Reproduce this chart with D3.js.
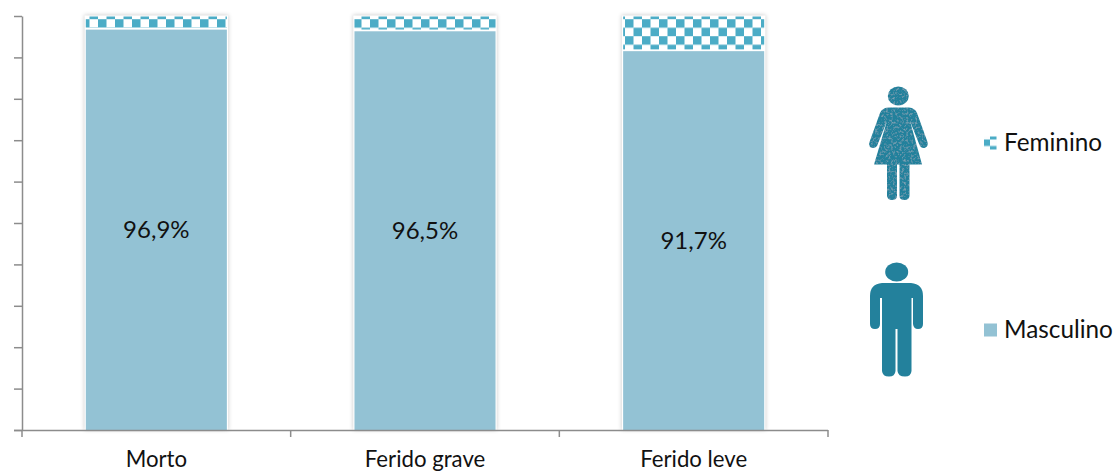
<!DOCTYPE html>
<html><head><meta charset="utf-8">
<script src="https://cdn.jsdelivr.net/npm/d3@7"></script>
<style>html,body{margin:0;background:#fff}svg{display:block}text{font-family:Lato,"Open Sans",sans-serif;fill:#111}</style>
</head><body><svg id="c" width="1117" height="472"></svg>
<script>
const categories = ["Morto", "Ferido grave", "Ferido leve"];
const masculino = [96.9, 96.5, 91.7];
const feminino = [3.1, 3.5, 8.3];
const labels = ["96,9%", "96,5%", "91,7%"];
const yTicks = [0,10,20,30,40,50,60,70,80,90,100];

const svg = d3.select("#c");
const x = d3.scaleBand().domain(categories).range([22,828]).paddingInner(0.475).paddingOuter(0.2375);
const y = d3.scaleLinear().domain([0,100]).range([430,16]);
const cM="#93c2d4", cF="#4bacc6", cI="#23819c", cA="#8c8c8c";

const defs = svg.append("defs");
const p = defs.append("pattern").attr("id","chk").attr("patternUnits","userSpaceOnUse")
  .attr("width",17).attr("height",17).attr("patternTransform","translate(98,19.2)");
p.append("rect").attr("width",17).attr("height",17).attr("fill","#fff");
p.append("rect").attr("width",8.5).attr("height",8.5).attr("fill",cF);
p.append("rect").attr("x",8.5).attr("y",8.5).attr("width",8.5).attr("height",8.5).attr("fill",cF);
const s = defs.append("filter").attr("id","sh").attr("x","-10%").attr("y","-10%").attr("width","120%").attr("height","120%");
s.append("feGaussianBlur").attr("stdDeviation",2);
const lg = defs.append("pattern").attr("id","lgF").attr("patternUnits","userSpaceOnUse")
  .attr("width",13).attr("height",13).attr("patternTransform","translate(984,136.5)");
lg.append("rect").attr("width",13).attr("height",13).attr("fill","#fbfdfe");
lg.append("rect").attr("x",0).attr("y",3).attr("width",6).attr("height",6.5).attr("fill",cF);
lg.append("rect").attr("x",6).attr("y",0).attr("width",6.5).attr("height",3).attr("fill",cF);
lg.append("rect").attr("x",6).attr("y",9.5).attr("width",6.5).attr("height",3.5).attr("fill",cF);
const tx = defs.append("filter").attr("id","rough").attr("x","0").attr("y","0").attr("width","100%").attr("height","100%");
tx.append("feTurbulence").attr("type","fractalNoise").attr("baseFrequency",0.45).attr("numOctaves",2).attr("seed",4).attr("result","n");
tx.append("feColorMatrix").attr("in","n").attr("type","matrix")
  .attr("values","0 0 0 0 1  0 0 0 0 1  0 0 0 0 1  0.55 0 0 0 -0.27").attr("result","w");
tx.append("feComposite").attr("in","w").attr("in2","SourceAlpha").attr("operator","in").attr("result","m");
const fm = tx.append("feMerge");
fm.append("feMergeNode").attr("in","SourceGraphic");
fm.append("feMergeNode").attr("in","m");

// shadows
svg.append("g").selectAll("rect").data(categories).join("rect")
  .attr("x",d=>x(d)-1.5).attr("y",y(100)-1).attr("width",x.bandwidth()+3).attr("height",y(0)-y(100)+1)
  .attr("fill","#000").attr("opacity",0.2).attr("filter","url(#sh)");
// bars
svg.append("g").selectAll("rect").data(categories).join("rect")
  .attr("x",d=>x(d)-1.2).attr("y",y(100)-0.5).attr("width",x.bandwidth()+2.4).attr("height",y(0)-y(100)+0.5).attr("fill","#fff");
svg.append("g").selectAll("rect").data(categories).join("rect")
  .attr("x",d=>x(d)).attr("y",(d,i)=>y(masculino[i])+0.8).attr("width",x.bandwidth())
  .attr("height",(d,i)=>y(0)-y(masculino[i])-0.8).attr("fill",cM);
svg.append("g").selectAll("rect").data(categories).join("rect")
  .attr("x",d=>x(d)).attr("y",(d,i)=>y(masculino[i]+feminino[i])+0.5).attr("width",x.bandwidth())
  .attr("height",(d,i)=>y(masculino[i])-y(masculino[i]+feminino[i])-1.5).attr("fill","url(#chk)");

// axes
const ax = svg.append("g").attr("transform","translate(22,0)")
  .call(d3.axisLeft(y).tickValues(yTicks).tickFormat("").tickSize(8).tickSizeOuter(0));
const bx = svg.append("g").attr("transform","translate(0,430)")
  .call(d3.axisBottom(x).tickFormat("").tickSize(0).tickSizeOuter(0));
[ax,bx].forEach(g=>{g.selectAll("path,line").attr("stroke",cA).attr("stroke-width",1.5).attr("fill","none");});
bx.select("path").attr("d","M14,0.5H828");
svg.append("g").attr("transform","translate(0,430)").selectAll("line")
  .data(d3.range(0,categories.length+1)).join("line")
  .attr("x1",i=>i<categories.length?x(categories[i])-x.step()*x.paddingOuter():828)
  .attr("x2",i=>i<categories.length?x(categories[i])-x.step()*x.paddingOuter():828)
  .attr("y1",0).attr("y2",7).attr("stroke",cA).attr("stroke-width",1.5);

// labels
svg.append("g").selectAll("text").data(categories).join("text")
  .attr("x",d=>x(d)+x.bandwidth()/2).attr("y",467).attr("text-anchor","middle").attr("font-size",22.2).text(d=>d);
svg.append("g").selectAll("text").data(categories).join("text")
  .attr("x",d=>x(d)+x.bandwidth()/2).attr("y",(d,i)=>(y(0)+y(masculino[i]))/2+9)
  .attr("text-anchor","middle").attr("font-size",24).text((d,i)=>labels[i]);

// icons
const woman = svg.append("g").attr("fill",cI).attr("filter","url(#rough)");
woman.append("ellipse").attr("cx",898.3).attr("cy",96).attr("rx",10.5).attr("ry",9.5);
woman.append("path").attr("d","M888,107.5 H909 Q915,108 917,113 L927.5,142 Q928.5,147 924.5,148 Q921,148.5 919.5,145 L910,121 L922,164.5 H909.5 V196 Q909,200 904.5,200 Q899.5,200 899.5,196 V164.5 H897 V196 Q897,200 892,200 Q887.5,200 887,196 V164.5 H874 L887,121 L877,146 Q875,148.5 872,148 Q868,146.5 869.5,142 L880,113 Q882,108 888,107.5 Z");
const man = svg.append("g").attr("fill",cI);
man.append("ellipse").attr("cx",896.7).attr("cy",272).attr("rx",11.5).attr("ry",9.5);
man.append("path").attr("d","M882,283 H911 Q923,284 923,296 V324 Q923,329 918,329 Q913.5,329 913,324 V298 H911.5 V371 Q911,376.5 905,376.5 Q898,376.5 897.5,371 V329 H895.5 V371 Q895,376.5 889,376.5 Q882.5,376.5 882,371 V298 H880 V324 Q880,329 875,329 Q870,329 870,324 V296 Q870,284 882,283 Z");

// legend
const legendNames = ["Feminino","Masculino"];
const legendFill = ["url(#lgF)",cM];
const legendY = [136.5,323.5];
const lgG = svg.append("g");
lgG.selectAll("rect").data(legendNames).join("rect").attr("x",984).attr("y",(d,i)=>legendY[i])
  .attr("width",13).attr("height",13).attr("fill",(d,i)=>legendFill[i]);
lgG.selectAll("text").data(legendNames).join("text").attr("x",1004).attr("y",(d,i)=>legendY[i]+14.5)
  .attr("font-size",24.3).text(d=>d);
</script></body></html>
